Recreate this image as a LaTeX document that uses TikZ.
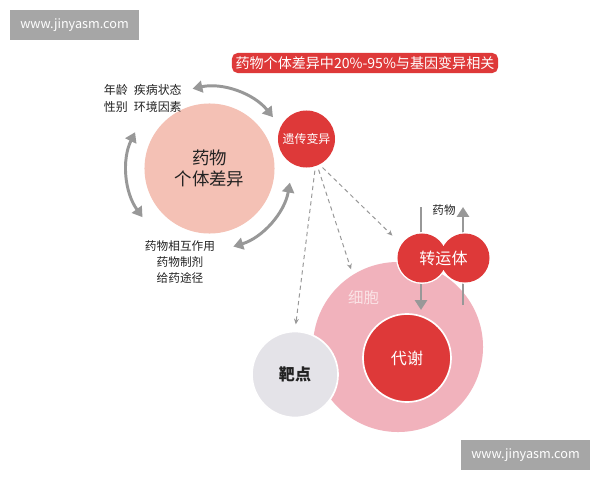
\documentclass[tikz,border=0pt]{standalone}
\usepackage{fontspec}
\setmainfont{Noto Sans CJK SC}
\usetikzlibrary{arrows.meta,calc}
\definecolor{wmgray}{RGB}{166,166,166}
\definecolor{deepred}{RGB}{222,57,57}
\definecolor{salmon}{RGB}{244,193,181}
\definecolor{cellpink}{RGB}{241,178,188}
\definecolor{celltxt}{RGB}{250,226,229}
\definecolor{targetgray}{RGB}{228,227,232}
\definecolor{arrowgray}{RGB}{152,152,152}
\definecolor{inkgray}{RGB}{34,34,34}
\tikzset{
    wmark/.style={fill=wmgray, text=white, minimum width=3.225cm, minimum height=0.75cm, inner sep=0pt, font=\fontsize{9}{10}\selectfont},
    bubble/.style={circle, inner sep=0pt, text=white},
    bend arrow/.style={draw=arrowgray, line width=2.1pt, {Triangle[length=7pt,width=8.5pt]}-{Triangle[length=7pt,width=8.5pt]}},
    flow arrow/.style={draw=arrowgray, line width=2.1pt, -{Triangle[length=7pt,width=8.5pt]}},
    dash arrow/.style={draw=arrowgray, line width=0.7pt, dash pattern=on 3pt off 2.5pt, -{Stealth[length=4pt,width=3.5pt]}},
}
\begin{document}
\begin{tikzpicture}[x=0.025cm,y=0.025cm]
    \useasboundingbox (0,0) rectangle (600,-480);
    \fill[white] (0,0) rectangle (600,-480);
    % watermarks
    \node[wmark] (mark1) at (74.5,-25) {www.jinyasm.com};
    \node[wmark] (mark2) at (525.5,-455) {www.jinyasm.com};
    % title
    \node[fill=deepred, rounded corners=4pt, minimum width=6.65cm, minimum height=0.5cm, inner sep=0pt, text=white, font=\fontsize{10}{12}\selectfont] (title) at (365,-63) {药物个体差异中20\%-95\%与基因变异相关};
    % individual difference
    \node[circle, fill=salmon, minimum size=3.25cm, align=center, text=inkgray, font=\fontsize{12.4}{15}\selectfont] (drug) at (209.5,-168.5) {药物\\个体差异};
    \draw[bend arrow] ([shift={(102:2.04cm)}]drug.center) arc (102:39:2.04cm);
    \draw[bend arrow] ([shift={(154:2.07cm)}]drug.center) arc (154:216:2.07cm);
    \draw[bend arrow] ([shift={(-10:2.04cm)}]drug.center) arc (-10:-73:2.04cm);
    \node[anchor=west, align=left, text=inkgray, font=\fontsize{8.5}{12}\selectfont] (factors) at (99,-98.5) {年龄\hspace{0.5em}疾病状态\\性别\hspace{0.5em}环境因素};
    \node[align=center, text=inkgray, font=\fontsize{8.3}{11.4}\selectfont] (usage) at (180,-262) {药物相互作用\\药物制剂\\给药途径};
    % genetic variation
    \node[bubble, fill=deepred, minimum size=1.425cm, font=\fontsize{8.5}{10}\selectfont] (gene) at (306.5,-139) {遗传变异};
    % cell
    \node[circle, fill=cellpink, minimum size=4.25cm] (cell) at (398,-347) {};
    \node[text=celltxt, font=\fontsize{11}{12}\selectfont] (celltext) at (363.5,-298) {细胞};
    \node[circle, fill=targetgray, draw=white, line width=1.2pt, minimum size=2.15cm, text=inkgray, font=\bfseries\fontsize{11.4}{12}\selectfont] (target) at (295,-374.5) {靶点};
    % transporter
    \coordinate (inTop) at (421,-207);
    \coordinate (inEnd) at (421,-310);
    \coordinate (outStart) at (463,-305);
    \coordinate (outTop) at (463,-207);
    \draw[flow arrow] (inTop) -- (inEnd);
    \draw[flow arrow] (outStart) -- (outTop);
    \node[circle, fill=deepred, draw=white, line width=2pt, minimum size=1.225cm] (tl) at (422,-258) {};
    \node[circle, fill=deepred, draw=white, line width=2pt, minimum size=1.225cm] (tr) at (465,-258) {};
    \fill[deepred] (tl.center) circle (0.6125cm) (tr.center) circle (0.6125cm);
    \node[text=white, font=\fontsize{11.4}{12}\selectfont] (transtext) at ($(tl.center)!0.5!(tr.center)$) {转运体};
    \node[text=inkgray, font=\fontsize{8.2}{10}\selectfont] (drugin) at (444,-210) {药物};
    % metabolism
    \node[bubble, fill=deepred, draw=white, line width=1.2pt, minimum size=2.2cm, font=\fontsize{11.4}{12}\selectfont] (metab) at (407,-358) {代谢};
    % dashed links
    \draw[dash arrow, shorten <=3pt, shorten >=4.5pt] (gene.-72) -- (target.north);
    \draw[dash arrow, shorten <=3pt, shorten >=4pt] (gene.-68) -- (cell.122);
    \draw[dash arrow, shorten <=3pt, shorten >=8pt] (gene.-63) -- (tl.146);
\end{tikzpicture}
\end{document}
